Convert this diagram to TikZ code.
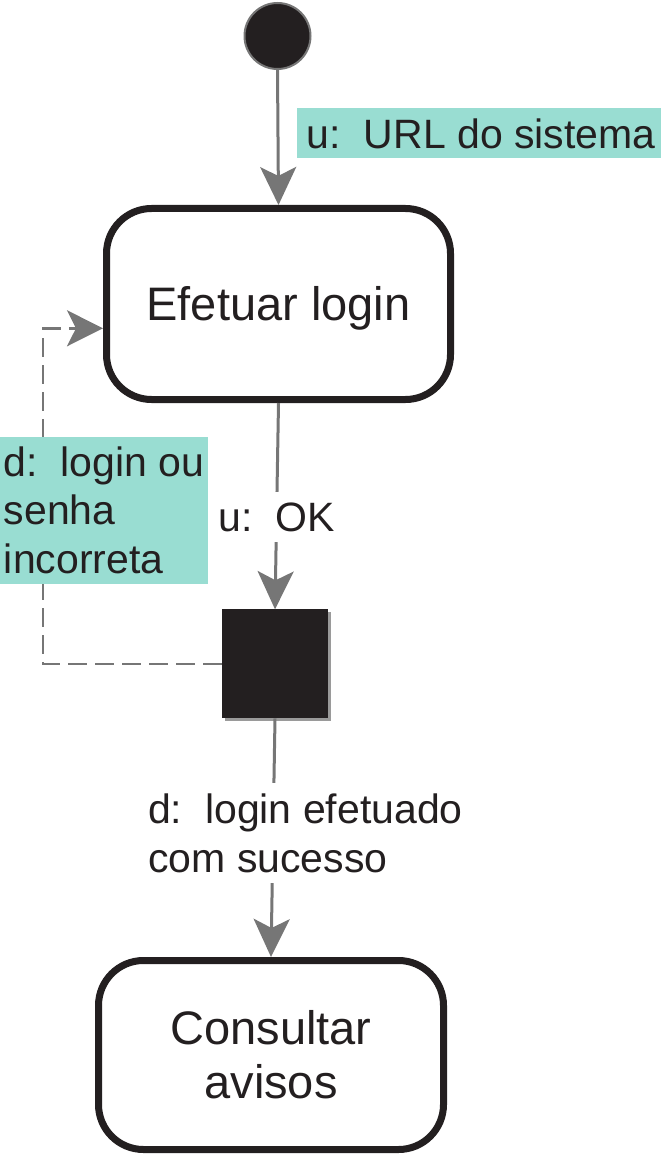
\documentclass[tikz,border=0pt]{standalone}
\usepackage{fontspec}
\setmainfont{Liberation Sans}
\usetikzlibrary{arrows.meta}
\definecolor{ink}{HTML}{231F20}
\definecolor{tealbg}{HTML}{99DDD2}
\definecolor{linegray}{HTML}{767676}
\definecolor{shadowgray}{HTML}{9A9A9A}
\tikzset{
  state/.style={draw=ink, line width=7pt, rounded corners=45pt, fill=white,
    text=ink, align=center, font=\fontsize{47}{54}\selectfont, inner sep=0pt},
  flow/.style={draw=linegray, line width=3pt,
    -{Stealth[length=38pt, width=36pt, inset=9pt]}},
  loopback/.style={draw=linegray, line width=2.5pt, dash pattern=on 19pt off 8pt,
    -{Stealth[length=36pt, width=36pt, inset=9pt]}},
  lab/.style={text=ink, font=\fontsize{41}{48.3}\selectfont, align=left},
  tlab/.style={lab, fill=tealbg},
  wlab/.style={lab, fill=white}
}
\begin{document}
\begin{tikzpicture}[x=1pt, y=-1pt]
\useasboundingbox (0,0) rectangle (661,1155);
% nodes
\node[circle, draw=linegray, line width=2pt, fill=ink, minimum size=66pt, inner sep=0pt] (start) at (277.5,36) {};
\node[state, minimum width=344pt, minimum height=191pt, text depth=2pt] (login) at (278.5,304) {Efetuar login};
\fill[shadowgray] (225,612) rectangle (331,721);
\node[draw=none, fill=ink, minimum width=106.5pt, minimum height=109pt, inner sep=0pt, outer sep=0pt] (junc) at (275,663.8) {};
\node[state, minimum width=345pt, minimum height=189pt] (consult) at (271,1055) {Consultar\\avisos};
% connectors
\draw[flow] (start.south) -- (login.north);
\draw[flow] (login.south) -- (junc.north);
\draw[flow] (junc.south) -- (consult.north);
\coordinate (c1) at (43,663.8);
\coordinate (c2) at (43,328.3);
\draw[loopback] (junc.west) -- (c1) -- (c2) -- (login.west |- c2);
% labels
\node[tlab, anchor=north west, minimum width=364pt, minimum height=50pt, inner sep=0pt] (lurl) at (297,108.3) {\hspace*{4pt}u:\ \ URL do sistema};
\node[wlab, anchor=north west, inner xsep=0pt, inner ysep=0pt, minimum height=50pt] (lok) at (218,491.7) {u:\ \ OK};
\node[tlab, anchor=north west, minimum width=208pt, minimum height=146.6pt, inner xsep=0pt, inner ysep=0pt] (lerr) at (0,436.7) {d:\ \ login ou\\senha\\incorreta};
\node[wlab, anchor=north west, inner xsep=0pt, inner ysep=0pt, minimum height=100pt] (lsucc) at (148,783) {d:\ \ login efetuado\\com sucesso};
\end{tikzpicture}
\end{document}
